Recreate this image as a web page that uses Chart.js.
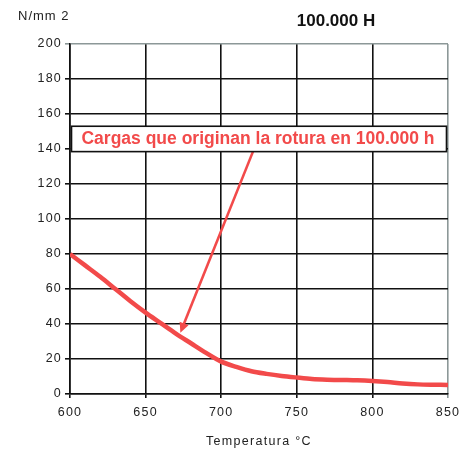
<!DOCTYPE html>
<html>
<head>
<meta charset="utf-8">
<script src="https://cdn.jsdelivr.net/npm/chart.js@4.4.1/dist/chart.umd.min.js"></script>
<style>
  html, body { margin: 0; padding: 0; background: #fff; }
  #wrap { width: 475px; height: 454px; }
</style>
</head>
<body>
<div id="wrap"><canvas id="c" width="475" height="454"></canvas></div>
<script>
// Temperature (°C) and rupture stress (N/mm2) after 100.000 h
const temperatures = [600, 610, 620, 630, 640, 650, 660, 670, 680, 690, 700, 710, 720, 730, 740, 750, 760, 770, 780, 790, 800, 810, 820, 830, 840, 850];
const stress = [80, 73.5, 67, 60, 53, 46.5, 40.5, 34.5, 29, 23.5, 18.5, 15.5, 13, 11.5, 10.3, 9.4, 8.6, 8.2, 8, 7.8, 7.4, 6.8, 6, 5.5, 5.3, 5.2];
const xTicks = [600, 650, 700, 750, 800, 850];
const yTicks = [0, 20, 40, 60, 80, 100, 120, 140, 160, 180, 200];

const chartTitle = '100.000 H';
const unitLabel = 'N/mm 2';
const xAxisTitle = 'Temperatura °C';
const noteText = 'Cargas que originan la rotura en 100.000 h';
// callout: box spans this x/y range, arrow runs from noteFrom to noteTo
const noteBox = { x0: 601, x1: 849, yTop: 153, yBottom: 138.5 };
const noteFrom = { x: 721, y: 138.5 };
const noteTo = { x: 673, y: 35 };

const RED = '#f24a4a';
const TXT = '#222';

const spacing = {
  id: 'spacing',
  beforeUpdate(chart) { chart.ctx.letterSpacing = '1.2px'; },
  beforeDraw(chart) { chart.ctx.letterSpacing = '1.2px'; }
};

const extras = {
  id: 'extras',
  afterDraw(chart) {
    const { ctx, scales: { x, y }, chartArea } = chart;
    ctx.save();
    // unit label and heading
    ctx.letterSpacing = '1px';
    ctx.fillStyle = TXT;
    ctx.font = '13px "Liberation Sans", Arial, sans-serif';
    ctx.textAlign = 'left';
    ctx.textBaseline = 'middle';
    ctx.fillText(unitLabel, 18, 16);
    ctx.letterSpacing = '0px';
    ctx.fillStyle = '#111';
    ctx.font = 'bold 17px "Liberation Sans", Arial, sans-serif';
    ctx.textAlign = 'center';
    ctx.fillText(chartTitle, 336, 21);
    // x-axis title
    ctx.letterSpacing = '1.3px';
    ctx.fillStyle = TXT;
    ctx.font = '12.5px "Liberation Sans", Arial, sans-serif';
    ctx.fillText(xAxisTitle, (chartArea.left + chartArea.right) / 2, 442);

    // arrow from callout to curve
    const fx = x.getPixelForValue(noteFrom.x), fy = y.getPixelForValue(noteFrom.y);
    const tx = x.getPixelForValue(noteTo.x), ty = y.getPixelForValue(noteTo.y);
    const ang = Math.atan2(ty - fy, tx - fx);
    const head = 11;
    ctx.strokeStyle = RED;
    ctx.fillStyle = RED;
    ctx.lineWidth = 2.6;
    ctx.beginPath();
    ctx.moveTo(fx, fy);
    ctx.lineTo(tx - Math.cos(ang) * head * 0.7, ty - Math.sin(ang) * head * 0.7);
    ctx.stroke();
    ctx.beginPath();
    ctx.moveTo(tx, ty);
    ctx.lineTo(tx - head * Math.cos(ang - 0.45), ty - head * Math.sin(ang - 0.45));
    ctx.lineTo(tx - head * Math.cos(ang + 0.45), ty - head * Math.sin(ang + 0.45));
    ctx.closePath();
    ctx.fill();

    // callout box
    const bx0 = x.getPixelForValue(noteBox.x0), bx1 = x.getPixelForValue(noteBox.x1);
    const by0 = y.getPixelForValue(noteBox.yTop), by1 = y.getPixelForValue(noteBox.yBottom);
    ctx.fillStyle = '#fff';
    ctx.fillRect(bx0, by0, bx1 - bx0, by1 - by0);
    ctx.strokeStyle = '#111';
    ctx.lineWidth = 1.6;
    ctx.strokeRect(bx0, by0, bx1 - bx0, by1 - by0);
    ctx.letterSpacing = '0px';
    ctx.fillStyle = RED;
    ctx.font = 'bold 17.5px "Liberation Sans", Arial, sans-serif';
    ctx.textAlign = 'center';
    ctx.textBaseline = 'middle';
    ctx.fillText(noteText, (bx0 + bx1) / 2 - 1, (by0 + by1) / 2 + 0.5, 360);
    ctx.restore();
  }
};

new Chart(document.getElementById('c'), {
  type: 'line',
  data: {
    labels: temperatures,
    datasets: [{
      data: temperatures.map((t, i) => ({ x: t, y: stress[i] })),
      borderColor: RED,
      borderWidth: 4.5,
      pointRadius: 0,
      tension: 0.3,
      fill: false
    }]
  },
  options: {
    responsive: false,
    animation: false,
    events: [],
    layout: { padding: { left: 0, right: 27, top: 44, bottom: 0 } },
    plugins: { legend: { display: false }, tooltip: { enabled: false }, title: { display: false } },
    scales: {
      x: {
        type: 'linear',
        min: 600, max: 850,
        afterBuildTicks(s) { s.ticks = xTicks.map(v => ({ value: v })); },
        afterFit(s) { s.height = 60; },
        border: { display: true, color: '#111', width: 1.6 },
        grid: {
          color: c => (c.tick && c.tick.value === 850) ? '#8c9898' : '#111',
          lineWidth: 1.6,
          tickLength: 4
        },
        ticks: {
          color: TXT,
          font: { family: '"Liberation Sans", Arial, sans-serif', size: 12.5 },
          padding: 7,
          maxRotation: 0
        }
      },
      y: {
        min: 0, max: 200,
        afterBuildTicks(s) { s.ticks = yTicks.map(v => ({ value: v })); },
        afterFit(s) { s.width = 70; },
        border: { display: true, color: '#111', width: 1.6 },
        grid: {
          color: c => (c.tick && c.tick.value === 200) ? '#8c9898' : '#111',
          lineWidth: 1.6,
          tickLength: 5
        },
        ticks: {
          color: TXT,
          font: { family: '"Liberation Sans", Arial, sans-serif', size: 12.5 },
          padding: 3
        }
      }
    }
  },
  plugins: [spacing, extras]
});
</script>
</body>
</html>
